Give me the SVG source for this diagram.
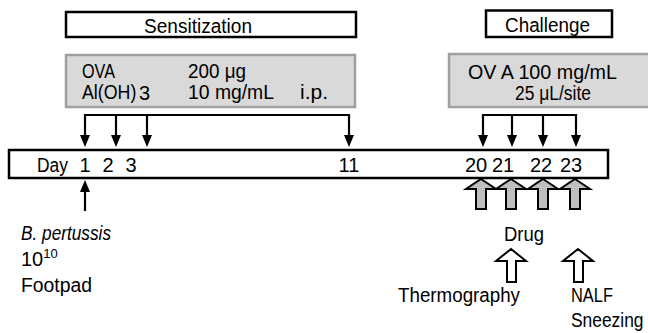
<svg xmlns="http://www.w3.org/2000/svg" width="648" height="333" viewBox="0 0 648 333">
<defs>
<style>
text{font-family:"Liberation Sans",Arial,sans-serif;font-size:20px;fill:#000}
.title{fill:#fff;stroke:#000;stroke-width:2.5}
.grey{fill:#d9d9d9;stroke:#a0a0a0;stroke-width:2.5}
.tl{fill:#fff;stroke:#000;stroke-width:2.5}
.ln{fill:none;stroke:#000;stroke-width:2.2;stroke-linecap:square}
.ar{fill:none;stroke:#000;stroke-width:2.2;marker-end:url(#ah)}
.gb{fill:#bfbfbf;stroke:#000;stroke-width:2;stroke-linejoin:miter}
.wb{fill:#fff;stroke:#000;stroke-width:2;stroke-linejoin:miter}
</style>
<marker id="ah" viewBox="0 0 12 10" refX="5" refY="5" markerWidth="12" markerHeight="10" orient="auto" markerUnits="userSpaceOnUse">
<path d="M0,0 L12,5 L0,10 z" fill="#000"/>
</marker>
</defs>
<rect width="648" height="333" fill="#fff"/>

<g id="sensitization">
<rect class="title" x="66" y="12" width="290" height="25"/>
<text x="144" y="32.5" textLength="108" lengthAdjust="spacingAndGlyphs">Sensitization</text>
</g>

<g id="challenge">
<rect class="title" x="486" y="10.5" width="126" height="26.5"/>
<text x="505" y="32" textLength="85" lengthAdjust="spacingAndGlyphs">Challenge</text>
</g>

<g id="sens-dose">
<rect class="grey" x="66" y="55" width="289" height="52"/>
<text x="82" y="78" textLength="33" lengthAdjust="spacingAndGlyphs">OVA</text>
<text x="188" y="78" textLength="58" lengthAdjust="spacingAndGlyphs">200 μg</text>
<text transform="translate(82,99) scale(0.89,1)" x="0" y="0">Al(OH)</text>
<text x="139" y="100" font-size="14">3</text>
<text x="188" y="99" textLength="86" lengthAdjust="spacingAndGlyphs">10 mg/mL</text>
<text x="300" y="99" textLength="28" lengthAdjust="spacingAndGlyphs">i.p.</text>
</g>

<g id="chal-dose">
<rect class="grey" x="449" y="54" width="202" height="53"/>
<text x="468" y="79" textLength="149" lengthAdjust="spacingAndGlyphs">OV A 100 mg/mL</text>
<text x="515" y="100" textLength="76" lengthAdjust="spacingAndGlyphs">25 μL/site</text>
</g>

<g id="timeline">
<rect class="tl" x="9" y="150" width="599" height="28"/>
<text x="37" y="171.5" textLength="31" lengthAdjust="spacingAndGlyphs">Day</text>
<text x="85" y="171.5" text-anchor="middle">1</text>
<text x="108" y="171.5" text-anchor="middle">2</text>
<text x="131" y="171.5" text-anchor="middle">3</text>
<text x="349" y="171.5" text-anchor="middle">11</text>
<text x="476" y="171.5" text-anchor="middle">20</text>
<text x="503" y="171.5" text-anchor="middle">21</text>
<text x="541" y="171.5" text-anchor="middle">22</text>
<text x="571" y="171.5" text-anchor="middle">23</text>
</g>

<g id="connectors">
<line class="ln" x1="85" y1="115" x2="349" y2="115"/>
<line class="ar" x1="85" y1="115" x2="85" y2="140"/>
<line class="ar" x1="116" y1="115" x2="116" y2="140"/>
<line class="ar" x1="147" y1="115" x2="147" y2="140"/>
<line class="ar" x1="349" y1="115" x2="349" y2="140"/>
<line class="ln" x1="483" y1="115" x2="576" y2="115"/>
<line class="ar" x1="483" y1="115" x2="483" y2="140"/>
<line class="ar" x1="512" y1="115" x2="512" y2="140"/>
<line class="ar" x1="543" y1="115" x2="543" y2="140"/>
<line class="ar" x1="576" y1="115" x2="576" y2="140"/>
<line class="ar" x1="85" y1="211" x2="85" y2="187"/>
<polygon class="gb" points="481,179 496,189 486,189 486,209 476,209 476,189 466,189"/>
<polygon class="gb" points="511,179 526,189 516,189 516,209 506,209 506,189 496,189"/>
<polygon class="gb" points="543,179 558,189 548,189 548,209 538,209 538,189 528,189"/>
<polygon class="gb" points="575,179 590,189 580,189 580,209 570,209 570,189 560,189"/>
<polygon class="wb" points="511,249 526,261 516,261 516,282 507,282 507,261 496,261"/>
<polygon class="wb" points="578,249 593,261 583,261 583,282 574,282 574,261 563,261"/>
</g>

<g id="pertussis">
<text x="21" y="240" font-style="italic" textLength="90" lengthAdjust="spacingAndGlyphs">B. pertussis</text>
<text x="21" y="266">10<tspan font-size="13" dy="-8">10</tspan></text>
<text x="21" y="292" textLength="71" lengthAdjust="spacingAndGlyphs">Footpad</text>
</g>

<g id="drug"><text x="504" y="241" textLength="40" lengthAdjust="spacingAndGlyphs">Drug</text></g>
<g id="thermography"><text x="398" y="302" textLength="122" lengthAdjust="spacingAndGlyphs">Thermography</text></g>
<g id="nalf">
<text x="571" y="302" textLength="42" lengthAdjust="spacingAndGlyphs">NALF</text>
<text transform="translate(571,327) scale(0.87,1)" x="0" y="0">Sneezing</text>
</g>
</svg>
